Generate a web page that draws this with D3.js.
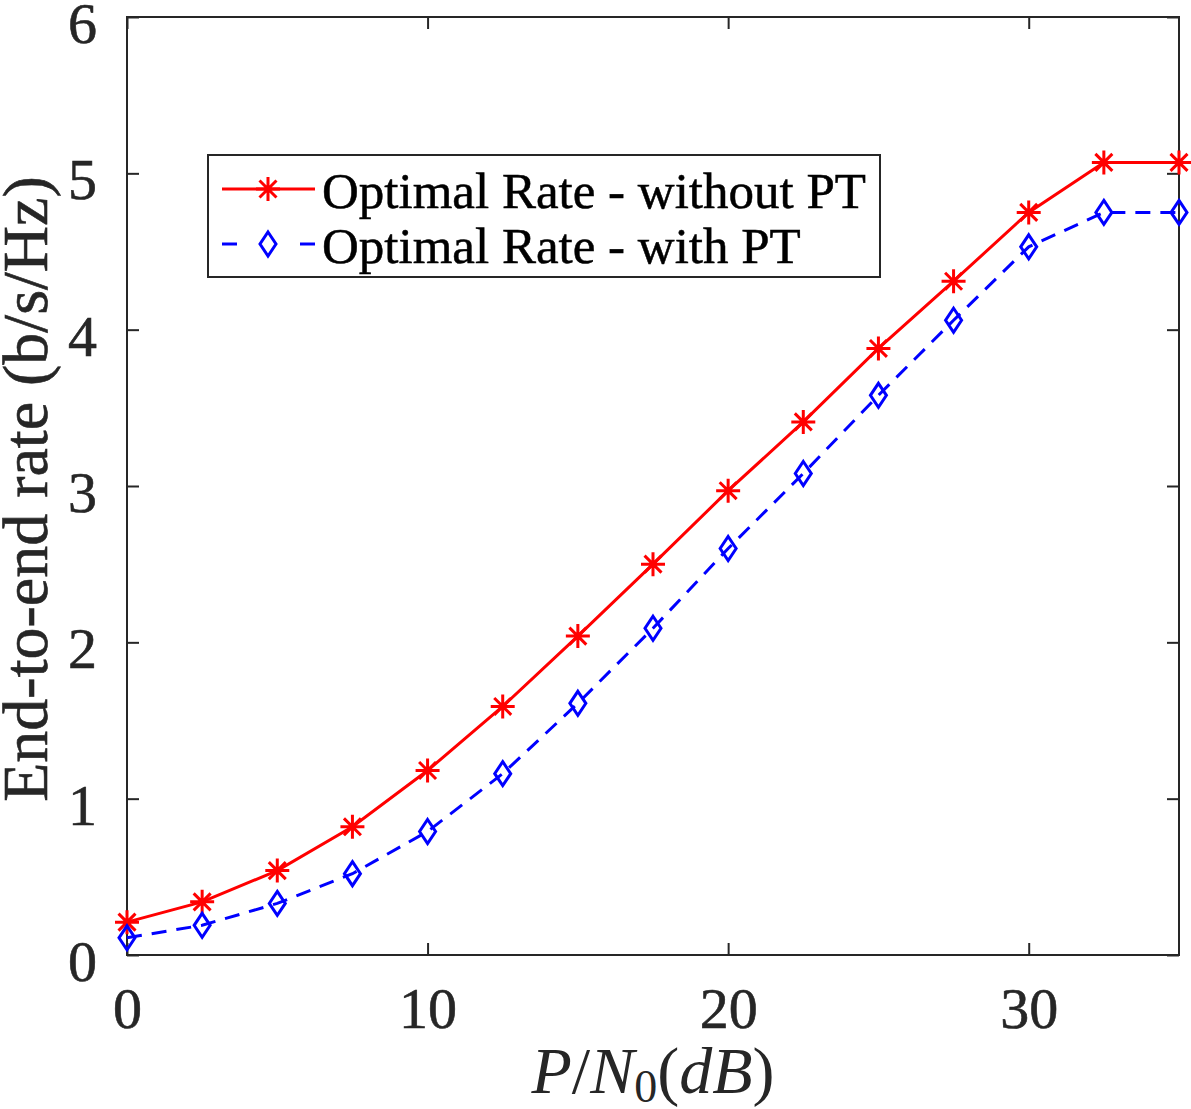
<!DOCTYPE html>
<html><head><meta charset="utf-8">
<script src="https://cdn.jsdelivr.net/npm/d3@7"></script>
<style>body{margin:0;background:#fff}svg{display:block}</style>
</head><body>
<svg id="c" width="1191" height="1109"></svg>
<script>
const xValues = [0, 2.5, 5, 7.5, 10, 12.5, 15, 17.5, 20, 22.5, 25, 27.5, 30, 32.5, 35];
const rateWithoutPT = [0.21, 0.34, 0.54, 0.82, 1.18, 1.59, 2.04, 2.50, 2.97, 3.41, 3.88, 4.31, 4.75, 5.07, 5.07];
const rateWithPT = [0.11, 0.19, 0.33, 0.52, 0.79, 1.16, 1.61, 2.09, 2.60, 3.08, 3.58, 4.06, 4.53, 4.75, 4.75];
const xTicks = [0, 10, 20, 30];
const yTicks = [0, 1, 2, 3, 4, 5, 6];
const seriesNames = ["Optimal Rate - without PT", "Optimal Rate - with PT"];

const svg = d3.select("#c");
const L = 127, R = 1179, T = 17, B = 955;
const x = d3.scaleLinear().domain([0, 35]).range([L, R]);
const y = d3.scaleLinear().domain([0, 6]).range([B, T]);
const font = "'Liberation Serif','Times New Roman',serif";
const axisColor = "#262626";

// box
svg.append("rect").attr("x", L).attr("y", T).attr("width", R - L).attr("height", B - T)
  .attr("fill", "none").attr("stroke", axisColor).attr("stroke-width", 2);

// axes with inward ticks
const tl = 12;
const gx = svg.append("g").attr("transform", `translate(0,${B})`)
  .call(d3.axisBottom(x).tickValues(xTicks).tickSize(-tl).tickPadding(20 + tl).tickFormat(d3.format("d")));
const gxt = svg.append("g").attr("transform", `translate(0,${T})`)
  .call(d3.axisTop(x).tickValues(xTicks).tickSize(-tl).tickFormat(""));
const gy = svg.append("g").attr("transform", `translate(${L},0)`)
  .call(d3.axisLeft(y).tickValues(yTicks).tickSize(-tl).tickPadding(18 + tl).tickFormat(d3.format("d")));
const gyr = svg.append("g").attr("transform", `translate(${R},0)`)
  .call(d3.axisRight(y).tickValues(yTicks).tickSize(-tl).tickFormat(""));
[gx, gxt, gy, gyr].forEach(g => {
  g.select(".domain").remove();
  g.selectAll(".tick line").attr("stroke", axisColor).attr("stroke-width", 2);
  g.selectAll("text").attr("fill", axisColor).attr("stroke", axisColor).attr("stroke-width", 0.6)
    .style("font-family", font).style("font-size", "58px");
});
gx.selectAll("text").attr("dy", "0.71em");
gy.selectAll("text").attr("dy", "0.44em");

// axis labels
svg.append("text").attr("transform", `translate(47,${489}) rotate(-90)`)
  .attr("text-anchor", "middle").attr("fill", axisColor).attr("stroke", axisColor).attr("stroke-width", 0.6)
  .style("font-family", font).style("font-size", "64px").text("End-to-end rate (b/s/Hz)");
const xl = svg.append("text").attr("x", (L + R) / 2).attr("y", 1093).attr("text-anchor", "middle")
  .attr("fill", axisColor).style("font-family", font).style("font-size", "66px");
xl.append("tspan").style("font-style", "italic").text("P");
xl.append("tspan").text("/");
xl.append("tspan").style("font-style", "italic").text("N");
xl.append("tspan").attr("dy", 9).style("font-size", "46px").text("0");
xl.append("tspan").attr("dy", -9).text("(");
xl.append("tspan").style("font-style", "italic").text("dB");
xl.append("tspan").text(")");

// lines
const line = d3.line().x((d, i) => x(xValues[i])).y(d => y(d));
svg.append("path").datum(rateWithoutPT).attr("d", line).attr("fill", "none")
  .attr("stroke", "#ff0000").attr("stroke-width", 3);
svg.append("path").datum(rateWithPT).attr("d", line).attr("fill", "none")
  .attr("stroke", "#0000ff").attr("stroke-width", 3).attr("stroke-dasharray", "15,10");

function star(g, cx, cy, r) {
  const p = [];
  for (let k = 0; k < 4; k++) {
    const a = k * Math.PI / 4 + Math.PI / 2;
    const dx = r * Math.cos(a), dy = r * Math.sin(a);
    p.push(`M${cx - dx},${cy - dy}L${cx + dx},${cy + dy}`);
  }
  g.append("path").attr("d", p.join("")).attr("stroke", "#ff0000").attr("stroke-width", 3).attr("fill", "none");
}
function diamond(g, cx, cy, w, h) {
  g.append("path").attr("d", `M${cx},${cy - h}L${cx + w},${cy}L${cx},${cy + h}L${cx - w},${cy}Z`)
    .attr("stroke", "#0000ff").attr("stroke-width", 3).attr("fill", "none");
}
const mg = svg.append("g");
rateWithoutPT.forEach((v, i) => star(mg, x(xValues[i]), y(v), 12));
rateWithPT.forEach((v, i) => diamond(mg, x(xValues[i]), y(v), 8, 12));

// legend
const lg = svg.append("g");
lg.append("rect").attr("x", 208).attr("y", 155).attr("width", 672).attr("height", 122)
  .attr("fill", "#fff").attr("stroke", axisColor).attr("stroke-width", 2);
lg.append("line").attr("x1", 222).attr("x2", 315).attr("y1", 189).attr("y2", 189)
  .attr("stroke", "#ff0000").attr("stroke-width", 3);
star(lg, 268, 189, 12);
[[222, 237], [300, 315]].forEach(s => lg.append("line").attr("x1", s[0]).attr("x2", s[1])
  .attr("y1", 244).attr("y2", 244).attr("stroke", "#0000ff").attr("stroke-width", 3));
diamond(lg, 268, 244, 8, 12);
lg.selectAll("text.l").data(seriesNames).join("text")
  .attr("x", 322).attr("y", (d, i) => 208 + i * 55)
  .attr("fill", "#000").attr("stroke", "#000").attr("stroke-width", 0.5)
  .style("font-family", font).style("font-size", "51px").text(d => d);
</script>
</body></html>
